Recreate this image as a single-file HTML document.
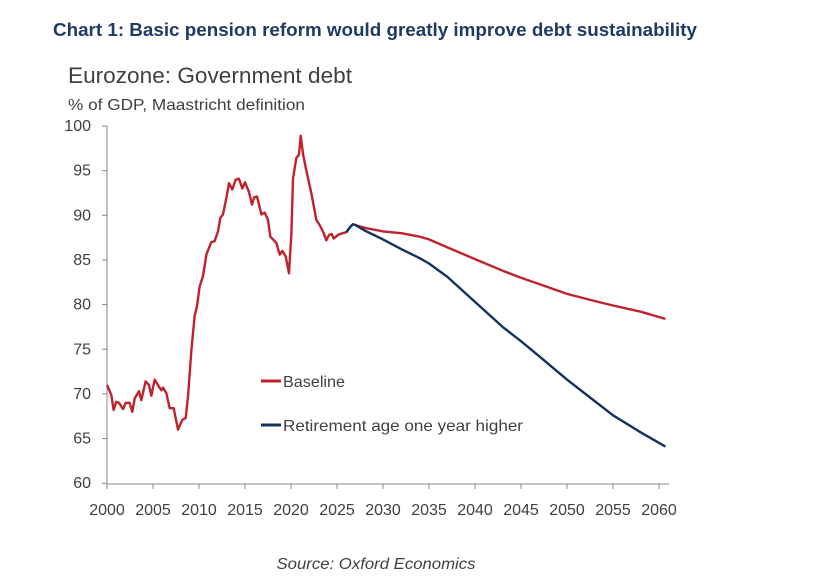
<!DOCTYPE html>
<html><head><meta charset="utf-8"><style>
body{margin:0;background:#fff;width:816px;height:576px;overflow:hidden;font-family:"Liberation Sans",sans-serif}
</style></head><body>
<svg id="c" width="816" height="576" font-family="Liberation Sans, sans-serif">
<text x="53" y="36" font-size="18" font-weight="bold" fill="#1f3b64" textLength="644" lengthAdjust="spacingAndGlyphs">Chart 1: Basic pension reform would greatly improve debt sustainability</text>
<text x="68" y="83" font-size="22" fill="#404040" textLength="284" lengthAdjust="spacingAndGlyphs">Eurozone: Government debt</text>
<text x="68" y="110" font-size="16" fill="#404040" textLength="237" lengthAdjust="spacingAndGlyphs">% of GDP, Maastricht definition</text>
<text x="376" y="569" font-size="16" font-style="italic" fill="#404040" text-anchor="middle" textLength="199" lengthAdjust="spacingAndGlyphs">Source: Oxford Economics</text>
<g id="axes"></g><g id="lines"></g>
<line x1="261" y1="381" x2="281" y2="381" stroke="#c0222c" stroke-width="3"/>
<text x="283" y="387" font-size="16" fill="#404040" textLength="62" lengthAdjust="spacingAndGlyphs">Baseline</text>
<line x1="261" y1="425" x2="281" y2="425" stroke="#11335e" stroke-width="3"/>
<text x="283" y="431" font-size="16" fill="#404040" textLength="240" lengthAdjust="spacingAndGlyphs">Retirement age one year higher</text>
</svg>
<script>
const yTicks=[60,65,70,75,80,85,90,95,100];
const xTicks=[2000,2005,2010,2015,2020,2025,2030,2035,2040,2045,2050,2055,2060];
const histYears=[2000,2000.47,2000.72,2001.01,2001.3,2001.74,2002.03,2002.46,2002.75,2003.01,2003.48,2003.73,2004.2,2004.57,2004.82,2005.18,2005.65,2005.91,2006.09,2006.45,2006.81,2007.25,2007.72,2008.19,2008.55,2008.8,2009.17,2009.53,2009.78,2010.07,2010.43,2010.8,2011.34,2011.7,2012.07,2012.32,2012.61,2012.97,2013.26,2013.62,2013.99,2014.35,2014.71,2015.0,2015.43,2015.76,2015.98,2016.3,2016.78,2017.14,2017.5,2017.75,2018.04,2018.41,2018.77,2019.06,2019.42,2019.78,2020.04,2020.22,2020.58,2020.87,2021.05,2021.3,2021.59,2021.92,2022.21,2022.75,2023.12,2023.55,2023.84,2024.13,2024.42,2024.64,2025.11,2025.58,2026.01,2026.45,2026.74];
const histValues=[71.0,69.9,68.2,69.1,69.0,68.3,69.0,69.0,68.0,69.5,70.3,69.3,71.4,71.0,69.8,71.6,70.8,70.4,70.7,70.1,68.4,68.4,66.0,67.1,67.3,69.7,74.9,78.8,79.8,82.0,83.2,85.6,87.0,87.1,88.2,89.7,90.1,91.9,93.6,92.9,94.0,94.1,93.0,93.7,92.6,91.2,92.0,92.1,90.1,90.3,89.5,87.6,87.3,86.9,85.6,86.0,85.4,83.5,88.0,94.1,96.4,96.8,98.9,96.9,95.4,93.8,92.5,89.5,88.9,88.0,87.2,87.8,87.9,87.4,87.8,88.0,88.1,88.7,89.0];
const projYears=[2027,2028,2030,2032,2034,2035,2037,2040,2043,2045,2047,2050,2053,2055,2058,2060.7];
const baseValues=[88.9,88.6,88.2,88.0,87.6,87.3,86.4,85.1,83.8,83.0,82.3,81.2,80.4,79.9,79.2,78.4];
const altValues=[88.9,88.3,87.3,86.2,85.2,84.6,83.1,80.3,77.5,75.9,74.2,71.6,69.2,67.6,65.7,64.1];
const X=y=>107+(y-2000)*9.2, Y=v=>126+(100-v)*8.93;
const NS="http://www.w3.org/2000/svg";
const ax=document.getElementById('axes'), ln=document.getElementById('lines');
function mk(t,a,p){const e=document.createElementNS(NS,t);for(const k in a)e.setAttribute(k,a[k]);p.appendChild(e);return e;}
const yl=mk('line',{x1:107,y1:126,x2:107,y2:484,stroke:'#888','stroke-width':1},ax);


const xl=mk('line',{x1:107,y1:484,x2:669,y2:484,stroke:'#888','stroke-width':1},ax);


yTicks.forEach(v=>{
 mk('line',{x1:102,y1:Y(v),x2:107,y2:Y(v),stroke:'#888'},ax);
 const t=mk('text',{x:91,y:Y(v)+5,'font-size':16,fill:'#404040','text-anchor':'end'},ax);t.textContent=v;
 
 
});
xTicks.forEach(v=>{
 mk('line',{x1:X(v),y1:484,x2:X(v),y2:489,stroke:'#888'},ax);
 const t=mk('text',{x:X(v),y:515,'font-size':16,fill:'#404040','text-anchor':'middle'},ax);t.textContent=v;
 
 
});
function path(xs,vs){return xs.map((x,i)=>(i?'L':'M')+X(x).toFixed(1)+','+Y(vs[i]).toFixed(1)).join('');}
const b=mk('path',{d:path(histYears.concat(projYears),histValues.concat(baseValues)),fill:'none',stroke:'#c0222c','stroke-width':2.4,'stroke-linejoin':'round'},ln);


const a=mk('path',{d:path([histYears[histYears.length-3]].concat(histYears.slice(-2),projYears),[histValues[histValues.length-3]].concat(histValues.slice(-2),altValues)),fill:'none',stroke:'#11335e','stroke-width':2.4,'stroke-linejoin':'round'},ln);


</script>
</body></html>
